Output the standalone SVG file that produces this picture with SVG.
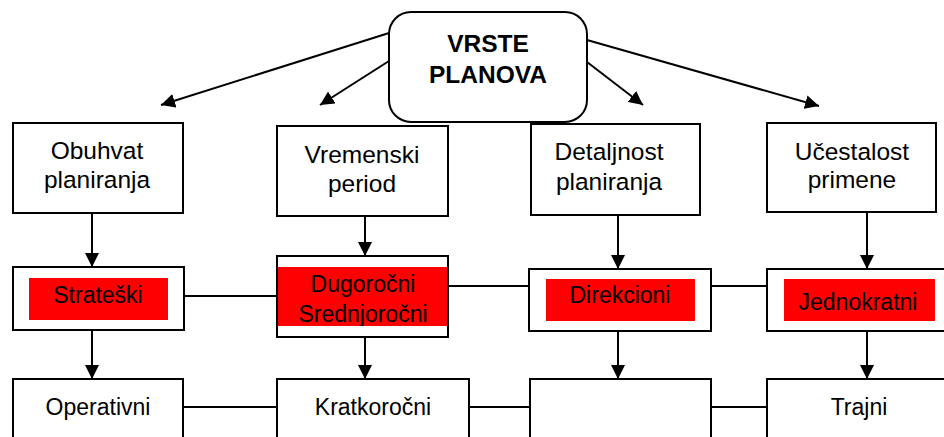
<svg xmlns="http://www.w3.org/2000/svg" width="944" height="437" viewBox="0 0 944 437">
<defs>
<style>
.box{fill:#fff;stroke:#000;stroke-width:2}
.red{fill:#ff0000}
.t{font-family:"Liberation Sans",Arial,sans-serif;font-size:23px;fill:#000;text-anchor:middle}
.h{font-size:24.5px}
.b{font-weight:bold;font-size:24.5px}
.c{stroke:#000;stroke-width:2;fill:none}
</style>
<marker id="ah" viewBox="0 0 14 14" refX="14" refY="7" markerWidth="14" markerHeight="14" markerUnits="userSpaceOnUse" orient="auto">
<path d="M0,0 L14,7 L0,14 z" fill="#000"/>
</marker>
<clipPath id="clipDug"><rect x="277" y="267" width="171" height="59"/></clipPath>
</defs>
<rect width="944" height="437" fill="#fff"/>
<g id="connectors">
<line class="c" x1="389" y1="33" x2="161" y2="105" marker-end="url(#ah)"/>
<line class="c" x1="389" y1="61" x2="320" y2="105" marker-end="url(#ah)"/>
<line class="c" x1="587" y1="62" x2="643" y2="105" marker-end="url(#ah)"/>
<line class="c" x1="587" y1="40" x2="819" y2="106" marker-end="url(#ah)"/>
<line class="c" x1="92" y1="213" x2="92" y2="267" marker-end="url(#ah)"/>
<line class="c" x1="92" y1="330" x2="92" y2="379" marker-end="url(#ah)"/>
<line class="c" x1="365" y1="216" x2="365" y2="256" marker-end="url(#ah)"/>
<line class="c" x1="365" y1="337" x2="365" y2="379" marker-end="url(#ah)"/>
<line class="c" x1="618" y1="215" x2="618" y2="269" marker-end="url(#ah)"/>
<line class="c" x1="618" y1="331" x2="618" y2="379" marker-end="url(#ah)"/>
<line class="c" x1="867" y1="213" x2="867" y2="269" marker-end="url(#ah)"/>
<line class="c" x1="867" y1="331" x2="867" y2="379" marker-end="url(#ah)"/>
<line class="c" x1="184" y1="296" x2="277" y2="296"/>
<line class="c" x1="448" y1="286" x2="529" y2="286"/>
<line class="c" x1="711" y1="286" x2="767" y2="286"/>
<line class="c" x1="183" y1="407" x2="277" y2="407"/>
<line class="c" x1="469" y1="407" x2="530" y2="407"/>
<line class="c" x1="711" y1="407" x2="767" y2="407"/>
</g>
<g id="vrste">
<rect class="box" x="389" y="12" width="198" height="110" rx="22"/>
<text class="t b" x="488" y="52">VRSTE</text>
<text class="t b" x="488" y="83">PLANOVA</text>
</g>
<g id="obuhvat">
<rect class="box" x="13" y="123" width="170" height="90"/>
<text class="t h" x="97" y="159">Obuhvat</text>
<text class="t h" x="97" y="188">planiranja</text>
</g>
<g id="vremenski">
<rect class="box" x="277" y="126" width="171" height="90"/>
<text class="t h" x="362" y="163">Vremenski</text>
<text class="t h" x="362" y="192">period</text>
</g>
<g id="detaljnost">
<rect class="box" x="531" y="124" width="169" height="91"/>
<text class="t h" x="609" y="160">Detaljnost</text>
<text class="t h" x="609" y="190">planiranja</text>
</g>
<g id="ucestalost">
<rect class="box" x="767" y="123" width="169" height="89"/>
<text class="t h" x="852" y="160">Učestalost</text>
<text class="t h" x="852" y="188">primene</text>
</g>
<g id="strateski">
<rect class="box" x="13" y="267" width="171" height="63"/>
<rect class="red" x="29" y="278" width="139" height="42"/>
<text class="t" x="98" y="303">Strateški</text>
</g>
<g id="dugorocni">
<rect class="box" x="277" y="256" width="171" height="81"/>
<rect class="red" x="278" y="267" width="169" height="59"/>
<g clip-path="url(#clipDug)">
<text class="t" x="363" y="292">Dugoročni</text>
<text class="t" x="363" y="322">Srednjoročni</text>
</g>
</g>
<g id="direkcioni">
<rect class="box" x="529" y="269" width="182" height="62"/>
<rect class="red" x="546" y="279" width="149" height="42"/>
<text class="t" x="620" y="303">Direkcioni</text>
</g>
<g id="jednokratni">
<rect class="box" x="767" y="269" width="190" height="62"/>
<rect class="red" x="784" y="279" width="151" height="42"/>
<text class="t" x="858" y="310">Jednokratni</text>
</g>
<g id="operativni">
<rect class="box" x="13" y="379" width="170" height="70"/>
<text class="t" x="98" y="415">Operativni</text>
</g>
<g id="kratkorocni">
<rect class="box" x="277" y="379" width="192" height="70"/>
<text class="t" x="373" y="415">Kratkoročni</text>
</g>
<g id="prazno">
<rect class="box" x="530" y="379" width="181" height="70"/>
</g>
<g id="trajni">
<rect class="box" x="767" y="379" width="190" height="70"/>
<text class="t" x="859" y="415">Trajni</text>
</g>
</svg>
